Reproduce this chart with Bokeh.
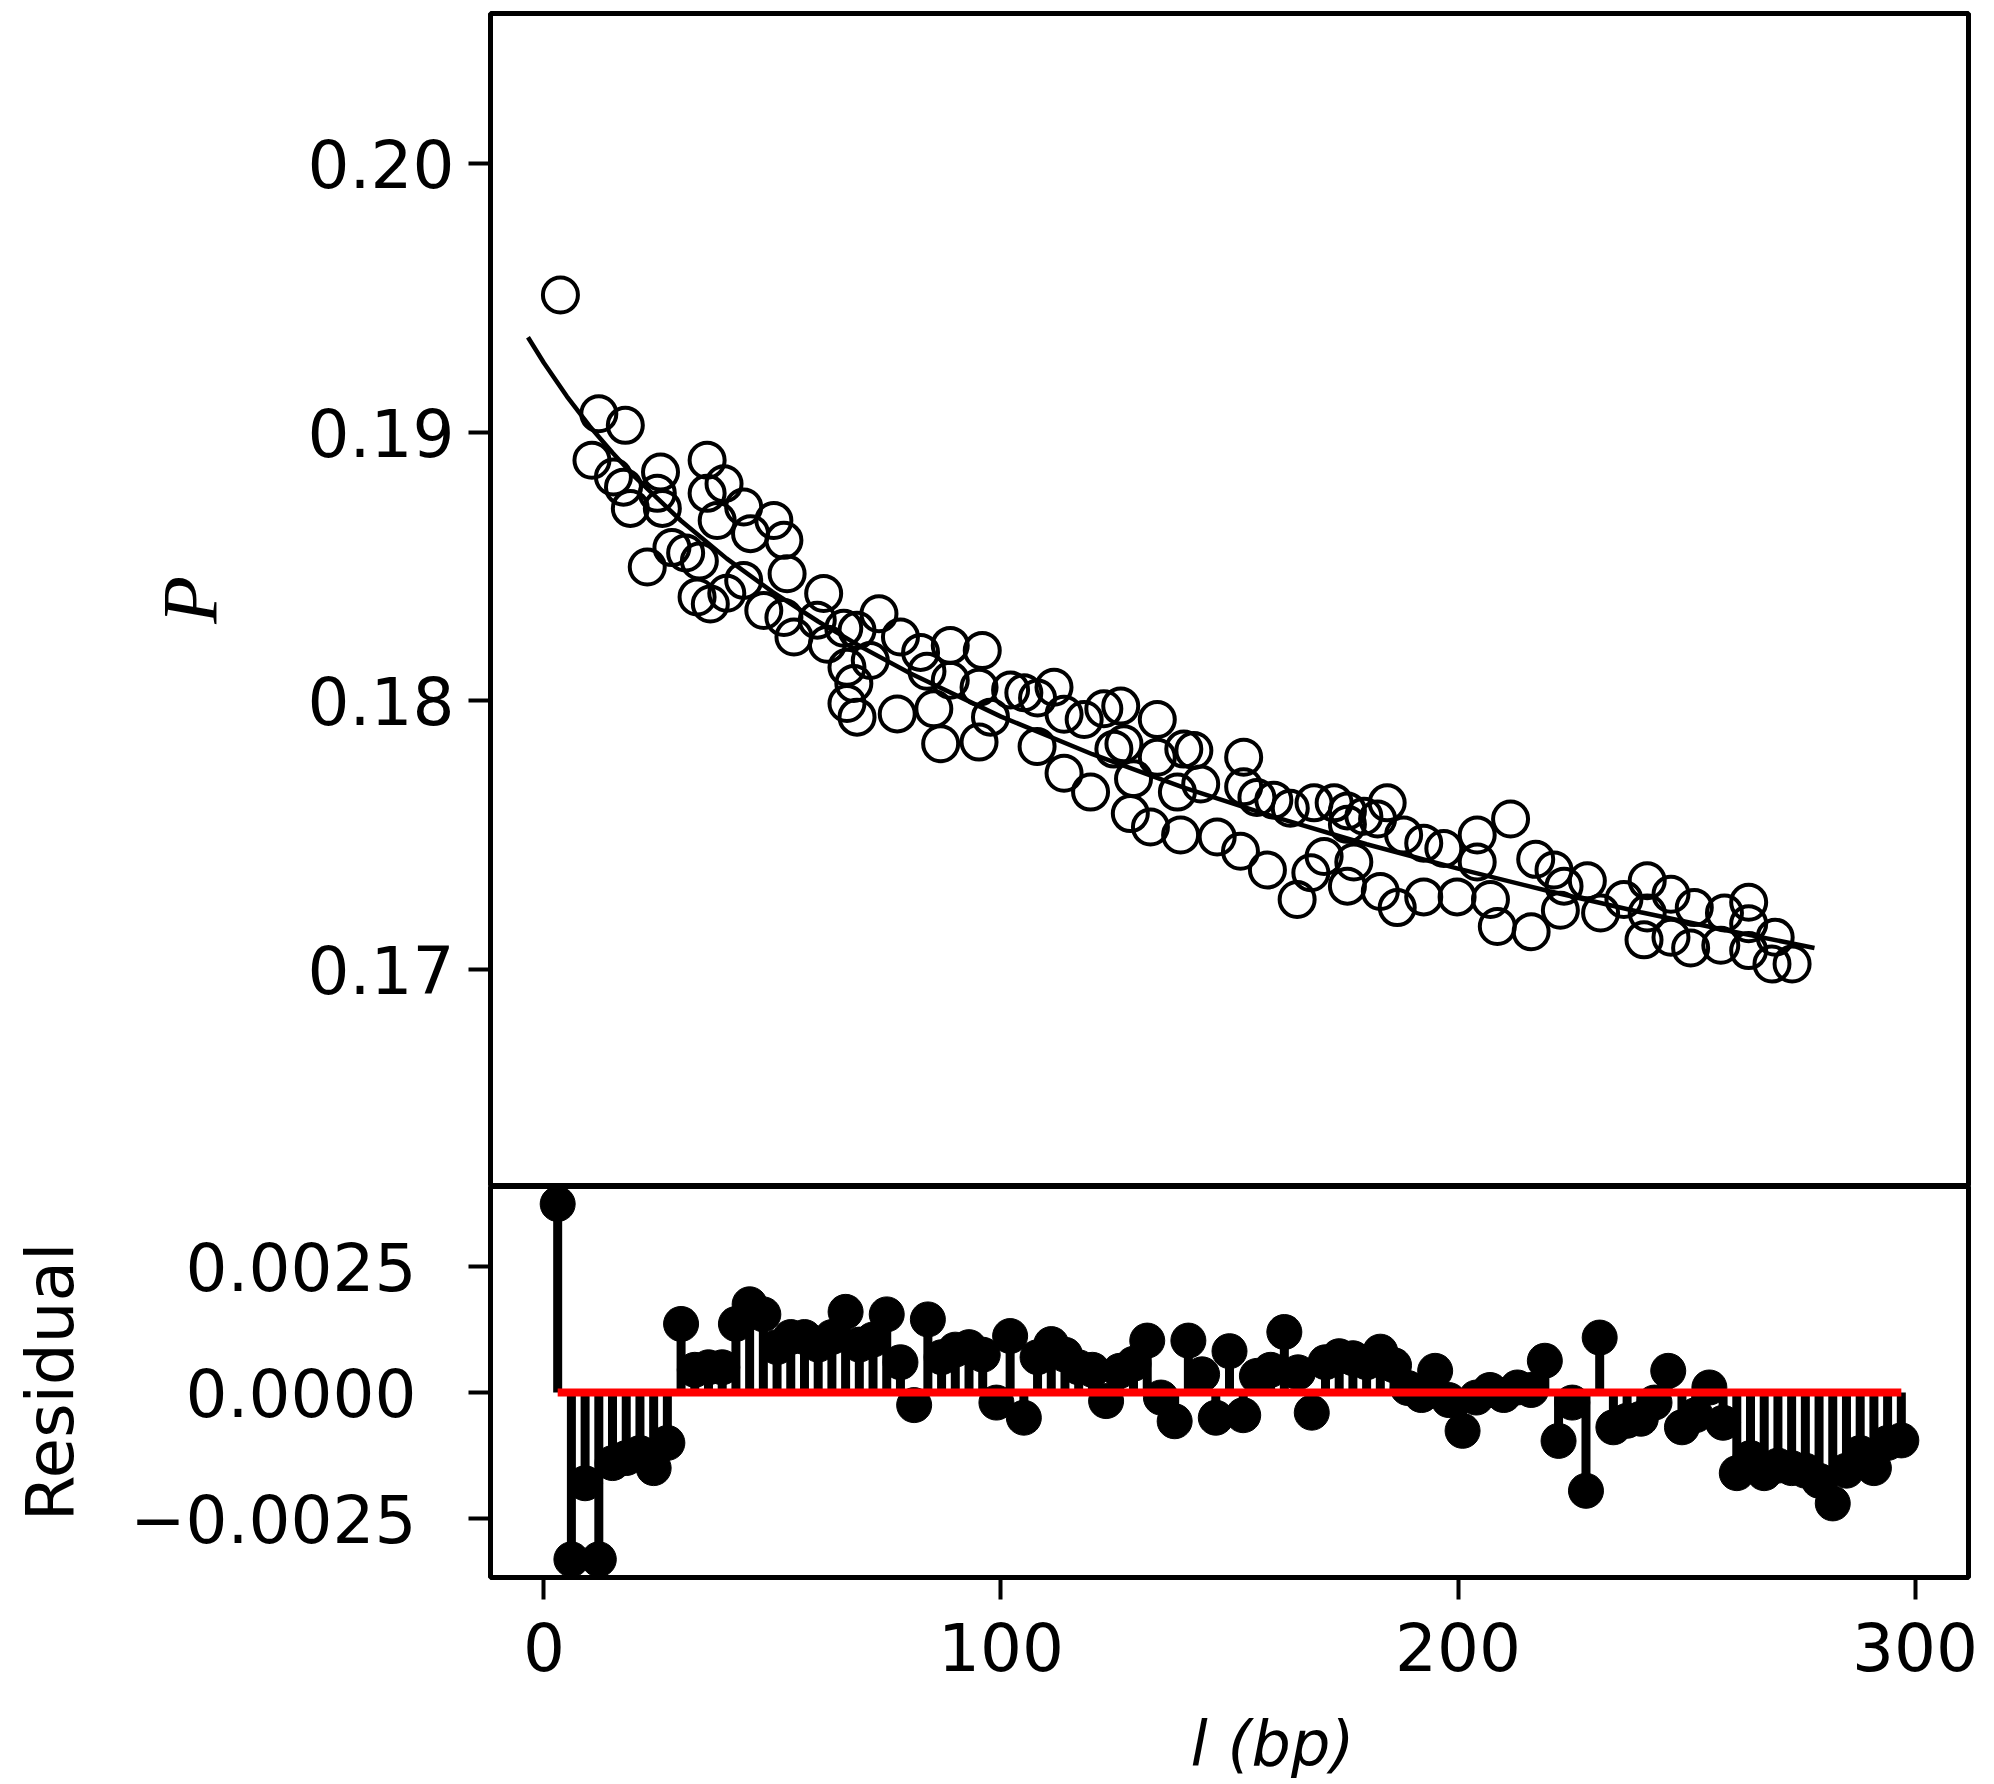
from bokeh.plotting import figure
from bokeh.layouts import column
from bokeh.models import Range1d, FixedTicker, Title, PrintfTickFormatter
from bokeh.embed import file_html
from bokeh.resources import INLINE

# ---------------- data ----------------
# top panel: observed P vs l (open circles)
l_obs = [3.6, 10.5, 12.0, 15.2, 17.4, 17.8, 18.9, 22.6, 24.8, 25.5, 25.9, 28.0, 31.0, 33.5, 34.0,
         35.7, 35.7, 36.4, 37.9, 39.4, 40.0, 43.7, 43.7, 45.2, 48.1, 50.3, 52.5, 52.5, 53.2, 54.7,
         59.8, 61.2, 62.0, 65.6, 66.3, 66.3, 67.8, 68.5, 68.5, 71.4, 73.3, 77.3, 78.0, 82.4, 83.8,
         85.3, 86.8, 88.9, 88.9, 95.2, 95.2, 95.9, 97.7, 102.1, 105.0, 107.9, 108.0, 111.6, 113.8,
         113.8, 118.2, 119.6, 122.5, 124.7, 126.2, 126.9, 128.3, 129.0, 132.7, 134.2, 134.2, 138.6,
         139.3, 140.0, 142.2, 143.7, 147.3, 152.4, 153.1, 153.1, 156.0, 158.3, 159.7, 163.3, 164.8,
         167.8, 168.5, 170.7, 172.9, 175.8, 175.8, 175.8, 177.2, 179.4, 182.4, 183.0, 184.5, 186.7,
         188.1, 192.5, 192.5, 196.9, 199.8, 204.2, 204.2, 207.1, 208.6, 211.5, 216.0, 217.0, 221.0,
         222.4, 223.2, 228.3, 231.2, 236.3, 240.7, 241.4, 241.4, 246.6, 246.6, 250.9, 251.7, 257.5,
         258.3, 263.6, 263.6, 263.6, 268.7, 269.4, 273.1]
p_obs = [0.1951, 0.18895, 0.19068, 0.18833, 0.18795, 0.19025, 0.18716, 0.18498, 0.18772, 0.18851,
         0.18716, 0.1857, 0.1855, 0.18386, 0.1852, 0.18895, 0.18772, 0.1836, 0.18671, 0.18808,
         0.1840, 0.18721, 0.18448, 0.18622, 0.18336, 0.18671, 0.18597, 0.1831, 0.18473, 0.18237,
         0.1830, 0.18399, 0.1821, 0.1827, 0.18125, 0.1799, 0.18064, 0.18262, 0.17939, 0.1815,
         0.18324, 0.17951, 0.18237, 0.1818, 0.1811, 0.1797, 0.1784, 0.18206, 0.18076, 0.1805,
         0.17846, 0.18187, 0.17939, 0.1804, 0.1803, 0.1783, 0.1801, 0.1805, 0.1795, 0.1773,
         0.1793, 0.1766, 0.1797, 0.1782, 0.1798, 0.1784, 0.1758, 0.1771, 0.1753, 0.1793,
         0.1779, 0.1766, 0.1750, 0.1782, 0.17815, 0.1769, 0.17493, 0.1744, 0.1779, 0.1768,
         0.1764, 0.1737, 0.1763, 0.1760, 0.1726, 0.1736, 0.1762, 0.1742, 0.1762, 0.1759,
         0.1754, 0.1731, 0.1740, 0.1757, 0.1756, 0.1729, 0.1762, 0.1723, 0.1750, 0.1747,
         0.1727, 0.1745, 0.1727, 0.1750, 0.1740, 0.1726, 0.1716, 0.1756, 0.1714, 0.1741,
         0.1737, 0.1722, 0.1731, 0.1733, 0.1721, 0.1726, 0.1711, 0.1733, 0.1721, 0.1728,
         0.1712, 0.1708, 0.1723, 0.1709, 0.1721, 0.1725, 0.1717, 0.1707, 0.1702, 0.1712, 0.1702]

# fitted curve
l_fit = [-3.5, 0, 5, 10, 15, 20, 30, 40, 50, 60, 70, 80, 100, 120, 140, 160, 180, 200, 220,
         240, 260, 278]
p_fit = [0.19353, 0.19257, 0.19133, 0.19022, 0.18923, 0.18831, 0.18670, 0.18529, 0.18405,
         0.18295, 0.18195, 0.18103, 0.17941, 0.17801, 0.17677, 0.17567, 0.17466, 0.17375,
         0.17291, 0.17213, 0.17141, 0.17080]

# residual panel (stem plot), residuals in units of 1e-3
l_res = [3, 6, 9, 12, 15, 18, 21, 24, 27, 30, 33, 36, 39, 42, 45, 48, 51, 54, 57, 60, 63, 66,
         69, 72, 75, 78, 81, 84, 87, 90, 93, 96, 99, 102, 105, 108, 111, 114, 117, 120, 123, 126,
         129, 132, 135, 138, 141, 144, 147, 150, 153, 156, 159, 162, 165, 168, 171, 174, 177, 180,
         183, 186, 189, 192, 195, 198, 201, 204, 207, 210, 213, 216, 219, 222, 225, 228, 231, 234,
         237, 240, 243, 246, 249, 252, 255, 258, 261, 264, 267, 270, 273, 276, 279, 282, 285, 288,
         291, 294, 297]
res_milli = [3.74, -3.31, -1.8, -3.31, -1.4, -1.3, -1.2, -1.5, -1.0, 1.36, 0.45, 0.5, 0.5, 1.36,
             1.75, 1.55, 0.9, 1.1, 1.1, 0.95, 1.1, 1.6, 0.95, 1.05, 1.55, 0.6, -0.25, 1.45, 0.7,
             0.85, 0.9, 0.75, -0.2, 1.12, -0.5, 0.7, 0.96, 0.75, 0.5, 0.45, -0.17, 0.43, 0.57,
             1.03, -0.1, -0.57, 1.03, 0.36, -0.5, 0.82, -0.45, 0.33, 0.45, 1.2, 0.4, -0.4, 0.6,
             0.72, 0.68, 0.6, 0.81, 0.54, 0.09, -0.05, 0.43, -0.15, -0.76, -0.1, 0.05, -0.05, 0.1,
             0.05, 0.63, -0.96, -0.2, -1.95, 1.09, -0.69, -0.56, -0.52, -0.2, 0.43, -0.69, -0.45,
             0.1, -0.6, -1.6, -1.3, -1.6, -1.45, -1.5, -1.55, -1.75, -2.2, -1.55, -1.2, -1.5, -1.0,
             -0.95]
residual = [r * 1e-3 for r in res_milli]

top_ticks = [0.17, 0.18, 0.19, 0.20]
res_ticks = [-0.0025, 0.0, 0.0025]
res_tick_labels = {-0.0025: "\u22120.0025", 0.0: "0.0000", 0.0025: "0.0025"}
x_ticks = [0, 100, 200, 300]

# ---------------- styling helpers ----------------
TICK_FONT = "DejaVu Sans"
TICK_SIZE = "66px"
LEFT = 490
FRAME_W = 1478
RIGHT = 22
W = LEFT + FRAME_W + RIGHT


def style_axis(ax):
    ax.major_label_text_font = TICK_FONT
    ax.major_label_text_font_size = TICK_SIZE
    ax.major_label_text_color = "black"
    ax.major_tick_out = 22
    ax.major_tick_in = 0
    ax.major_tick_line_width = 4
    ax.major_tick_line_color = "black"
    ax.minor_tick_line_color = None
    ax.axis_line_color = None
    ax.major_label_standoff = 14


x_range = Range1d(-11.7, 311.7)

# ---------------- top panel ----------------
top = figure(width=W, height=13 + 1173, x_range=x_range, y_range=Range1d(0.16192, 0.20558),
             output_backend="svg", toolbar_location=None, x_axis_location=None,
             min_border_left=LEFT, min_border_right=RIGHT, min_border_top=13, min_border_bottom=0)
top.outline_line_color = "black"
top.outline_line_width = 5
top.xgrid.visible = False
top.ygrid.visible = False
top.background_fill_color = "white"
top.border_fill_color = "white"

top.scatter(l_obs, p_obs, size=35, marker="circle", fill_color=None, line_color="black",
            line_width=4)
top.line(l_fit, p_fit, line_color="black", line_width=4.5)

ya = top.yaxis[0]
style_axis(ya)
ya.ticker = FixedTicker(ticks=top_ticks)
ya.formatter = PrintfTickFormatter(format="%.2f")
ya.axis_label = "P"
ya.axis_label_text_font = "Liberation Serif"
ya.axis_label_text_font_style = "italic"
ya.axis_label_text_font_size = "78px"
ya.axis_label_text_color = "black"
ya.axis_label_standoff = 72

# ---------------- residual panel ----------------
BOT_BORDER = 207
bot = figure(width=W, height=391 + BOT_BORDER, x_range=x_range, y_range=Range1d(-0.00367, 0.004087),
             output_backend="svg", toolbar_location=None,
             min_border_left=LEFT, min_border_right=RIGHT, min_border_top=0,
             min_border_bottom=BOT_BORDER)
bot.outline_line_color = "black"
bot.outline_line_width = 5
bot.xgrid.visible = False
bot.ygrid.visible = False
bot.background_fill_color = "white"
bot.border_fill_color = "white"

bot.segment(x0=l_res, y0=[0.0] * len(l_res), x1=l_res, y1=residual, line_color="black",
            line_width=9)
bot.scatter(l_res, residual, size=35, marker="circle", fill_color="black", line_color="black")
bot.line([l_res[0], l_res[-1]], [0.0, 0.0], line_color="#ff0000", line_width=8)

xa = bot.xaxis[0]
style_axis(xa)
xa.major_label_standoff = 22
xa.ticker = FixedTicker(ticks=x_ticks)

yb = bot.yaxis[0]
style_axis(yb)
yb.major_label_standoff = 52
yb.ticker = FixedTicker(ticks=res_ticks)
yb.major_label_overrides = res_tick_labels
yb.axis_label = "Residual"
yb.axis_label_text_font = TICK_FONT
yb.axis_label_text_font_style = "normal"
yb.axis_label_text_font_size = "66px"
yb.axis_label_text_color = "black"
yb.axis_label_standoff = 38

# thin spacer between the tick labels and the x label
spacer = Title(text=" ", standoff=26, text_font_size="1px", text_color="white")
bot.add_layout(spacer, "below")

# x label below the axis, placed right of centre like in the reference
xlabel = Title(text="l (bp)", align="left", offset=700, standoff=4,
               text_font=TICK_FONT, text_font_style="italic", text_font_size="62px",
               text_color="black")
bot.add_layout(xlabel, "below")

layout = column(top, bot, spacing=0)
open("out.html", "w").write(file_html(layout, INLINE))
